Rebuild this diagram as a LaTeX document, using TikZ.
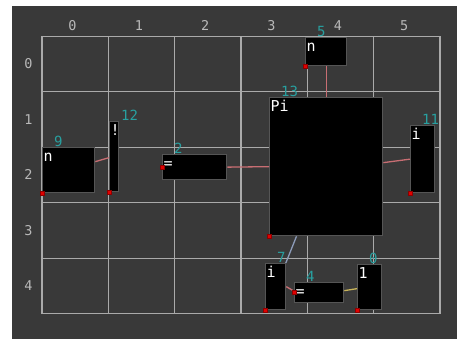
\documentclass[tikz,border=0pt]{standalone}
\usepackage{fontspec}
\newfontfamily\monofont{DejaVu Sans Mono}
\definecolor{bgdark}{RGB}{57,57,57}
\definecolor{gridgray}{RGB}{170,170,170}
\definecolor{boxgray}{RGB}{85,85,85}
\definecolor{idteal}{RGB}{40,160,160}
\definecolor{axisgray}{RGB}{185,185,185}
\definecolor{wirepink}{RGB}{200,110,115}
\definecolor{wireblue}{RGB}{140,155,185}
\definecolor{wireyellow}{RGB}{200,180,90}
\definecolor{portred}{RGB}{225,0,0}
\begin{document}
\begin{tikzpicture}[x=1pt,y=-1pt,
    blk/.style={draw=boxgray, line width=1.3pt, fill=black, anchor=north west, inner sep=0pt},
    idlbl/.style={anchor=south west, xshift=12pt, inner sep=0pt, text=idteal, font=\monofont\fontsize{14}{14}\selectfont},
    txt/.style={anchor=north west, inner xsep=1.5pt, inner ysep=2pt, text height=12pt, text depth=0pt, text=white, font=\monofont\fontsize{15}{15}\selectfont},
    axlbl/.style={text=axisgray, inner sep=0pt, font=\monofont\fontsize{13.5}{13.5}\selectfont},
    port/.style={fill=portred, draw=red!55!black, line width=0.4pt, minimum size=4pt, inner sep=0pt},
    wire/.style={line width=1.3pt}]
    \useasboundingbox (0,0) rectangle (457,339);
    \fill[bgdark] (12,6) rectangle (457,339);

    % Grid
    \foreach \i in {0,...,6} {
        \draw[gridgray, line width=1.4pt] (42+66.33*\i,36.3) -- (42+66.33*\i,313.7);
      }
    \foreach \j in {0,...,5} {
        \draw[gridgray, line width=1.4pt] (42,36.3+55.48*\j) -- (440,36.3+55.48*\j);
      }
    \foreach \i in {0,...,5} {
        \node[axlbl] (col\i) at (72.5+66.33*\i,25.7) {\i};
      }
    \foreach \j in {0,...,4} {
        \node[axlbl] (row\j) at (28.5,64+55.48*\j) {\j};
      }

    % Blocks
    \node[blk, minimum width=52pt, minimum height=45pt, label={[idlbl]north west:9}, label={[txt]north west:n}] (b9) at (42,147) {};
    \node[blk, minimum width=9pt, minimum height=70pt, label={[idlbl]north west:12}, label={[txt]north west:!}] (b12) at (109,121) {};
    \node[blk, minimum width=64pt, minimum height=25pt, label={[idlbl]north west:2}, label={[txt]north west:=}] (b2) at (162,154) {};
    \node[blk, minimum width=41pt, minimum height=28pt, label={[idlbl]north west:5}, label={[txt]north west:n}] (b5) at (305,37) {};
    \node[blk, minimum width=113pt, minimum height=138pt, label={[idlbl]north west:13}, label={[txt]north west:Pi}] (b13) at (269,97) {};
    \node[blk, minimum width=24pt, minimum height=67pt, label={[idlbl]north west:11}, label={[txt]north west:i}] (b11) at (410,125) {};
    \node[blk, minimum width=20pt, minimum height=46pt, label={[idlbl]north west:7}, label={[txt]north west:i}] (b7) at (265,263) {};
    \node[blk, minimum width=49pt, minimum height=20pt, label={[idlbl]north west:4}, label={[txt]north west:=}] (b4) at (294,282) {};
    \node[blk, minimum width=24pt, minimum height=45pt, label={[idlbl]north west:0}, label={[txt]north west:1}] (b0) at (357,264) {};

    % Wires
    \draw[wire, wirepink] ([yshift=8.5pt]b9.east) -- ([yshift=-1pt]b12.west);
    \draw[wire, wirepink] (b2.east) -- (b13.west);
    \draw[wire, wirepink] (b5.south) -- (b13.north);
    \draw[wire, wirepink] ([yshift=4pt]b13.east) -- (b11.west);
    \draw[wire, wireblue] ([xshift=27.5pt]b13.south west) -- ([xshift=-0.5pt]b7.north east);
    \draw[wire, wirepink] (b7.east) -- ([yshift=1.5pt]b4.west);
    \draw[wire, wireyellow] ([yshift=2pt]b4.east) -- ([yshift=-1.5pt]b0.west);

    % Ports
    \foreach \n in {9,12,5,13,11,7,0} {
        \node[port] (p\n) at (b\n.south west) {};
      }
    \node[port] (p2) at (b2.west) {};
    \node[port] (p4) at (b4.west) {};
  \end{tikzpicture}
\end{document}
